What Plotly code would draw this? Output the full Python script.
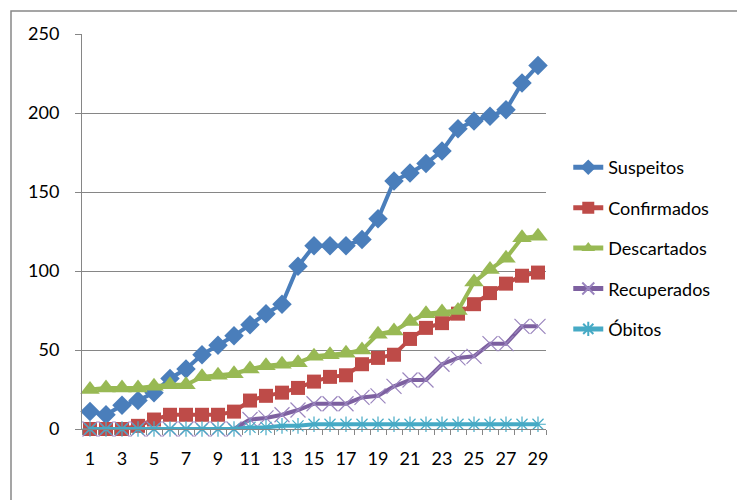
import plotly.graph_objects as go

days = [1, 2, 3, 4, 5, 6, 7, 8, 9, 10, 11, 12, 13, 14, 15, 16, 17, 18, 19, 20,
        21, 22, 23, 24, 25, 26, 27, 28, 29]
x_tick_labels = ["1", "3", "5", "7", "9", "11", "13", "15", "17", "19", "21",
                 "23", "25", "27", "29"]
x_tick_vals = [1, 3, 5, 7, 9, 11, 13, 15, 17, 19, 21, 23, 25, 27, 29]
y_tick_vals = [0, 50, 100, 150, 200, 250]

suspeitos = [11, 9, 15, 18, 23, 32, 38, 47, 53, 59, 66, 73, 79, 103, 116, 116,
             116, 120, 133, 157, 162, 168, 176, 190, 195, 198, 202, 219, 230]
confirmados = [0, 0, 0, 2, 6, 9, 9, 9, 9, 11, 18, 21, 23, 26, 30, 33, 34, 41,
               45, 47, 57, 64, 67, 73, 79, 86, 92, 97, 99]
descartados = [25, 26, 26, 26, 27, 28, 28, 33, 34, 35, 38, 40, 41, 42, 46, 47,
               48, 50, 60, 62, 68, 73, 74, 75, 93, 101, 108, 121, 122]
recuperados = [0, 0, 0, 0, 0, 0, 0, 0, 0, 0, 6, 7, 9, 12, 16, 16, 16, 20, 21,
               27, 31, 31, 41, 45, 46, 54, 54, 65, 65]
obitos = [0, 0, 0, 0, 0, 0, 0, 0, 0, 0, 1, 1, 2, 2, 3, 3, 3, 3, 3, 3, 3, 3, 3,
          3, 3, 3, 3, 3, 3]

FONT = "Lato"

series = [
    ("Suspeitos", suspeitos, "#4A7EBB", dict(symbol="diamond", size=15, color="#4A7EBB")),
    ("Confirmados", confirmados, "#BE4B48", dict(symbol="square", size=14, color="#BE4B48")),
    ("Descartados", descartados, "#98B954", dict(symbol="triangle-up", size=17, color="#98B954")),
    ("Recuperados", recuperados, "#7D60A0",
     dict(symbol="x-thin-open", size=15, color="#9A85BE", line=dict(width=1.2, color="#9A85BE"))),
    ("Óbitos", obitos, "#46AAC5",
     dict(symbol="asterisk-open", size=13, color="#46AAC5", line=dict(width=1.2, color="#46AAC5"))),
]

fig = go.Figure()
for i, (name, vals, col, mk) in enumerate(series):
    fig.add_trace(go.Scatter(
        x=days, y=vals, name=name, mode="lines+markers",
        line=dict(color=col, width=4),
        marker=mk, legendgroup=f"g{i}", cliponaxis=False,
    ))

fig.update_layout(
    width=745, height=500,
    margin=dict(l=74, r=207, t=26, b=79),
    paper_bgcolor="white", plot_bgcolor="white",
    font=dict(family=FONT, size=18, color="#000000"),
    showlegend=True,
    legend=dict(x=1.048, xanchor="left", y=0.458, yanchor="middle",
                traceorder="grouped", tracegroupgap=14, itemsizing="constant",
                font=dict(family=FONT, size=18, color="#000000"),
                bgcolor="rgba(0,0,0,0)", borderwidth=0),
    xaxis=dict(range=[0.5, 29.5], tickmode="array", tickvals=x_tick_vals,
               ticktext=x_tick_labels, ticks="", showgrid=False,
               showline=True, linecolor="#868686", linewidth=1,
               zeroline=False, ticklabelstandoff=13,
               minor=dict(ticks="outside", tick0=0.5, dtick=1, ticklen=5,
                          tickcolor="#868686", showgrid=False)),
    yaxis=dict(range=[0, 250], tickmode="array", tickvals=y_tick_vals,
               ticks="outside", ticklen=6, tickcolor="#868686",
               showgrid=True, gridcolor="#868686", gridwidth=1,
               showline=True, linecolor="#868686", linewidth=1,
               zeroline=False, ticklabelstandoff=12),
)

# outer chart border
fig.add_shape(type="rect", xref="paper", yref="paper",
              x0=(3 - 74) / 464, x1=(742 - 74) / 464,
              y0=(421 - 497) / 395, y1=(421 - 3) / 395,
              line=dict(color="#888888", width=1.5), layer="below")

fig.write_html("out.html")
